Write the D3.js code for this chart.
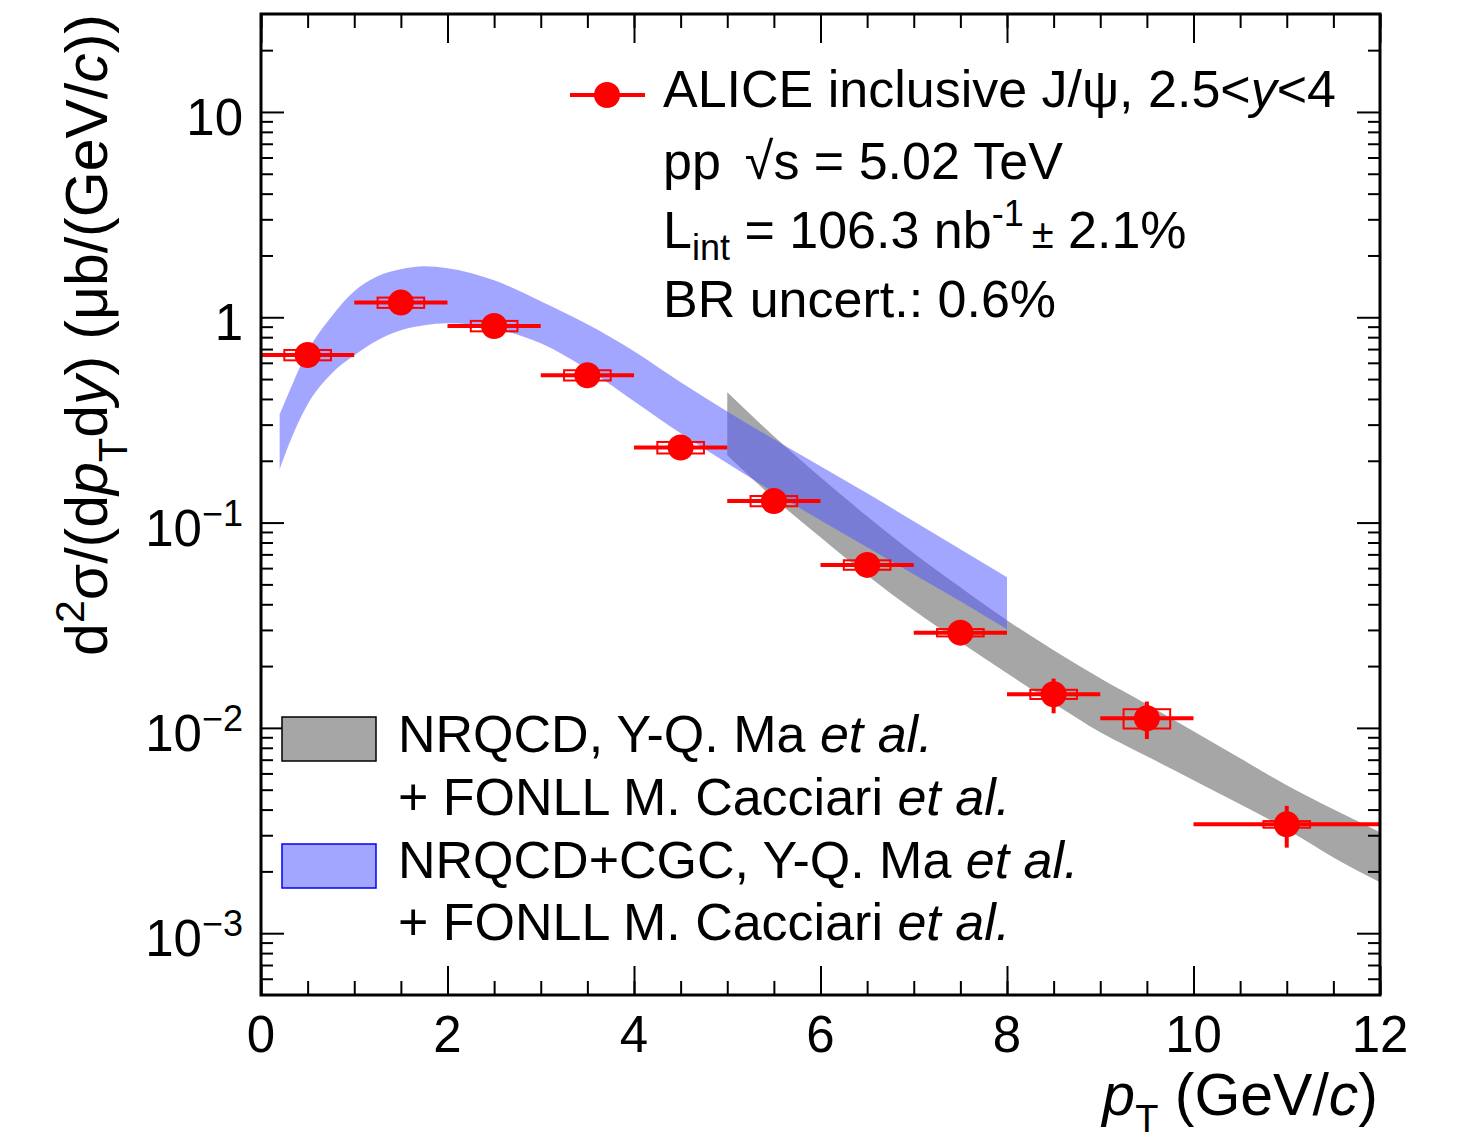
<!DOCTYPE html>
<html>
<head>
<meta charset="utf-8">
<script src="https://cdn.jsdelivr.net/npm/d3@7"></script>
<style>
  body { margin: 0; background: #fff; }
  text { font-family: "Liberation Sans", Arial, Helvetica, sans-serif; fill: #000; }
</style>
</head>
<body>
<div id="chart-area"></div>
<script>

var width = 1465,
    height = 1143;

// ALICE inclusive J/psi points
var ptCenter = [0.5, 1.5, 2.5, 3.5, 4.5, 5.5, 6.5, 7.5, 8.5, 9.5, 11];
var ptLow    = [0, 1, 2, 3, 4, 5, 6, 7, 8, 9, 10];
var ptHigh   = [1, 2, 3, 4, 5, 6, 7, 8, 9, 10, 12];
var xsec     = [0.655, 1.179, 0.907, 0.522, 0.232, 0.1274, 0.0622, 0.0291, 0.01458, 0.01113, 0.00339];
var statErr  = [0.02, 0.03, 0.02, 0.012, 0.006, 0.004, 0.0025, 0.0015, 0.0028, 0.0023, 0.00078];
var sysErr   = [0.038, 0.068, 0.053, 0.03, 0.015, 0.0073, 0.0033, 0.0012, 0.00075, 0.0012, 0.000126];

// NRQCD+CGC band
var cgcPt   = [0.2, 0.3, 0.5, 0.75, 1, 1.25, 1.5, 1.75, 2, 2.5, 3, 3.5, 4, 4.5, 5, 5.5, 6, 6.5, 7, 7.5, 8];
var cgcHigh = [0.337, 0.431, 0.683, 1.0, 1.339, 1.584, 1.713, 1.772, 1.733, 1.514, 1.197, 0.924, 0.683, 0.482, 0.348, 0.2544, 0.188, 0.1389, 0.1015, 0.0741, 0.0542];
var cgcLow  = [0.1818, 0.2406, 0.377, 0.528, 0.653, 0.773, 0.864, 0.914, 0.935, 0.884, 0.747, 0.558, 0.390, 0.272, 0.1944, 0.1405, 0.1026, 0.0758, 0.0560, 0.0414, 0.0302];

// NRQCD + FONLL band
var nrqcdPt   = [5, 5.5, 6, 6.5, 7, 7.5, 8, 8.5, 9, 9.5, 10, 10.5, 11, 11.5, 12];
var nrqcdHigh = [0.431, 0.2633, 0.1662, 0.1073, 0.0709, 0.0484, 0.0334, 0.0239, 0.01745, 0.01303, 0.00962, 0.00711, 0.00525, 0.00401, 0.00310];
var nrqcdLow  = [0.2128, 0.1313, 0.0848, 0.0554, 0.0374, 0.0261, 0.01845, 0.01318, 0.00952, 0.00727, 0.00556, 0.00425, 0.00321, 0.00234, 0.00177];

var xMajor = [0, 2, 4, 6, 8, 10, 12];
var yMajor = [1e-3, 1e-2, 1e-1, 1, 10];
var yLabelExp = ["\u22123", "\u22122", "\u22121", "", ""];
var yLabelBase = ["10", "10", "10", "1", "10"];

var svg = d3.select("#chart-area").append("svg")
    .attr("width", width)
    .attr("height", height);

var x = d3.scaleLinear().domain([0, 12]).range([261, 1380]);
var y = d3.scaleLog().domain([5e-4, 30]).range([995, 14]);

// bands
var area = d3.area()
    .x(d => x(d.pt))
    .y0(d => y(d.lo))
    .y1(d => y(d.hi))
    .curve(d3.curveMonotoneX);

var nrqcd = nrqcdPt.map((p, i) => ({pt: p, lo: nrqcdLow[i], hi: nrqcdHigh[i]}));
var cgc = cgcPt.map((p, i) => ({pt: p, lo: cgcLow[i], hi: cgcHigh[i]}));

svg.append("path").datum(nrqcd)
    .attr("d", area)
    .style("fill", "#a6a6a6");

svg.append("path").datum(cgc)
    .attr("d", area)
    .style("fill", "rgb(79,86,255)")
    .style("fill-opacity", 0.53);

// axes (ticks inward on all four sides)
var minorX = d3.range(0, 12.01, 0.5);
var minorY = [];
for (var e = -4; e <= 1; e++) {
  for (var k = 2; k <= 9; k++) {
    var v = k * Math.pow(10, e);
    if (v > 5e-4 && v < 30) minorY.push(v);
  }
}

function axisStyle(g) {
  g.select(".domain").remove();
  g.selectAll(".tick line").attr("stroke", "#000").attr("stroke-width", 2);
}

svg.append("g").attr("transform", "translate(0,995)")
    .call(d3.axisBottom(x).tickValues(minorX).tickSize(-14).tickFormat(""))
    .call(axisStyle);
svg.append("g").attr("transform", "translate(0,995)")
    .call(d3.axisBottom(x).tickValues(xMajor).tickSize(-29).tickFormat(""))
    .call(axisStyle);
svg.append("g").attr("transform", "translate(0,14)")
    .call(d3.axisTop(x).tickValues(minorX).tickSize(-14).tickFormat(""))
    .call(axisStyle);
svg.append("g").attr("transform", "translate(0,14)")
    .call(d3.axisTop(x).tickValues(xMajor).tickSize(-29).tickFormat(""))
    .call(axisStyle);

svg.append("g").attr("transform", "translate(261,0)")
    .call(d3.axisLeft(y).tickValues(minorY).tickSize(-12).tickFormat(""))
    .call(axisStyle);
svg.append("g").attr("transform", "translate(261,0)")
    .call(d3.axisLeft(y).tickValues(yMajor).tickSize(-23).tickFormat(""))
    .call(axisStyle);
svg.append("g").attr("transform", "translate(1380,0)")
    .call(d3.axisRight(y).tickValues(minorY).tickSize(-12).tickFormat(""))
    .call(axisStyle);
svg.append("g").attr("transform", "translate(1380,0)")
    .call(d3.axisRight(y).tickValues(yMajor).tickSize(-23).tickFormat(""))
    .call(axisStyle);

// data points
var pts = ptCenter.map((p, i) => ({pt: p, lo: ptLow[i], hi: ptHigh[i], v: xsec[i], st: statErr[i], sy: sysErr[i]}));

var dataG = svg.append("g");

dataG.selectAll(".xerr")
    .data(pts).enter().append("line")
    .attr("x1", d => x(d.lo)).attr("x2", d => x(d.hi))
    .attr("y1", d => y(d.v)).attr("y2", d => y(d.v))
    .style("stroke", "red").style("stroke-width", 4);

dataG.selectAll(".yerr")
    .data(pts).enter().append("line")
    .attr("x1", d => x(d.pt)).attr("x2", d => x(d.pt))
    .attr("y1", d => y(d.v + d.st)).attr("y2", d => y(d.v - d.st))
    .style("stroke", "red").style("stroke-width", 4);

dataG.selectAll(".sys")
    .data(pts).enter().append("rect")
    .attr("x", d => x(d.pt - 0.25))
    .attr("width", d => x(d.pt + 0.25) - x(d.pt - 0.25))
    .attr("y", d => y(d.v + d.sy))
    .attr("height", d => y(d.v - d.sy) - y(d.v + d.sy))
    .style("fill", "none").style("stroke", "red").style("stroke-width", 2);

dataG.selectAll("circle")
    .data(pts).enter().append("circle")
    .attr("cx", d => x(d.pt)).attr("cy", d => y(d.v))
    .attr("r", 13)
    .style("fill", "red");

// frame
svg.append("rect")
    .attr("x", 261).attr("y", 14)
    .attr("width", 1380 - 261).attr("height", 995 - 14)
    .style("fill", "none").style("stroke", "#000").style("stroke-width", 3);

// tick labels
svg.selectAll(".xlab")
    .data(xMajor).enter().append("text")
    .attr("x", d => x(d)).attr("y", 1052)
    .attr("text-anchor", "middle")
    .style("font-size", "51px")
    .text(d => d);

var ylab = svg.selectAll(".ylab")
    .data(yMajor).enter().append("text")
    .attr("x", 243).attr("y", d => y(d) + 23)
    .attr("text-anchor", "end")
    .style("font-size", "51px");
ylab.append("tspan").text((d, i) => yLabelBase[i]);
ylab.append("tspan")
    .attr("dy", -20)
    .style("font-size", "36px")
    .text((d, i) => yLabelExp[i]);

// axis titles
var xt = svg.append("text")
    .attr("x", 1378).attr("y", 1115)
    .attr("text-anchor", "end")
    .style("font-size", "59px");
xt.append("tspan").style("font-style", "italic").text("p");
xt.append("tspan").attr("dy", 17).style("font-size", "38px").text("T");
xt.append("tspan").attr("dy", -17).text(" (GeV/");
xt.append("tspan").style("font-style", "italic").text("c");
xt.append("tspan").text(")");

var yt = svg.append("text")
    .attr("transform", "translate(107,14) rotate(-90)")
    .attr("text-anchor", "end")
    .style("font-size", "59px");
yt.append("tspan").text("d");
yt.append("tspan").attr("dy", -23).style("font-size", "41px").text("2");
yt.append("tspan").attr("dy", 23).text("\u03c3/(d");
yt.append("tspan").style("font-style", "italic").text("p");
yt.append("tspan").attr("dy", 20).style("font-size", "40px").text("T");
yt.append("tspan").attr("dy", -20).text("d");
yt.append("tspan").style("font-style", "italic").text("y");
yt.append("tspan").text(")");
yt.append("tspan").attr("dx", 16).text("(\u03bcb/(GeV/");
yt.append("tspan").style("font-style", "italic").text("c");
yt.append("tspan").text("))");

// legend, top right
svg.append("line")
    .attr("x1", 570).attr("x2", 645).attr("y1", 95).attr("y2", 95)
    .style("stroke", "red").style("stroke-width", 4);
svg.append("circle")
    .attr("cx", 607).attr("cy", 95).attr("r", 13)
    .style("fill", "red");

var l1 = svg.append("text").attr("x", 663).attr("y", 107).style("font-size", "52px");
l1.append("tspan").text("ALICE inclusive J/\u03c8, 2.5<");
l1.append("tspan").style("font-style", "italic").text("y");
l1.append("tspan").text("<4");

var l2 = svg.append("text").attr("x", 663).attr("y", 179).style("font-size", "52px");
l2.append("tspan").text("pp");
l2.append("tspan").attr("dx", 24).text("\u221as = 5.02 TeV");

var l3 = svg.append("text").attr("x", 663).attr("y", 248).style("font-size", "52px");
l3.append("tspan").text("L");
l3.append("tspan").attr("dy", 12).style("font-size", "36px").text("int");
l3.append("tspan").attr("dy", -12).text(" = 106.3 nb");
l3.append("tspan").attr("dy", -22).style("font-size", "36px").text("-1");
l3.append("tspan").attr("dy", 22).attr("dx", 8).style("font-size", "40px").text("\u00b1");
l3.append("tspan").style("font-size", "52px").text(" 2.1%");

svg.append("text").attr("x", 663).attr("y", 317).style("font-size", "52px")
    .text("BR uncert.: 0.6%");

// legend, bottom left
svg.append("rect")
    .attr("x", 282).attr("y", 717).attr("width", 94).attr("height", 44)
    .style("fill", "#a6a6a6").style("stroke", "#000").style("stroke-width", 1.5);
svg.append("rect")
    .attr("x", 282).attr("y", 844).attr("width", 94).attr("height", 44)
    .style("fill", "rgb(79,86,255)").style("fill-opacity", 0.53)
    .style("stroke", "#0000ff").style("stroke-width", 1.5);

var legLines = [
  ["NRQCD, Y-Q. Ma ", 752],
  ["+ FONLL M. Cacciari ", 815],
  ["NRQCD+CGC, Y-Q. Ma ", 878],
  ["+ FONLL M. Cacciari ", 940]
];
legLines.forEach(function(l) {
  var t = svg.append("text").attr("x", 398).attr("y", l[1]).style("font-size", "52px");
  t.append("tspan").text(l[0]);
  t.append("tspan").style("font-style", "italic").text("et al.");
});

</script>
</body>
</html>
